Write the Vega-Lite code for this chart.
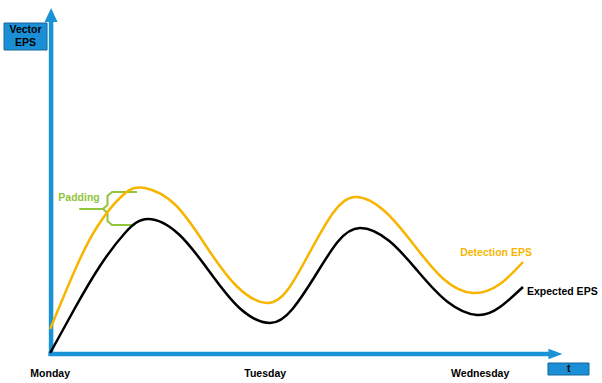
{
  "$schema": "https://vega.github.io/schema/vega-lite/v6.json",
  "width": 602,
  "height": 383,
  "autosize": {"type": "none"},
  "padding": 0,
  "background": "white",
  "config": {"view": {"stroke": null}, "text": {"font": "Liberation Sans", "fontWeight": "bold", "fontSize": 10.5}},
  "datasets": {
    "curves": [
      {"series": "Expected EPS", "h": 0, "eps": 1},
      {"series": "Expected EPS", "h": 2.77, "eps": 46},
      {"series": "Expected EPS", "h": 5.56, "eps": 88},
      {"series": "Expected EPS", "h": 8.35, "eps": 121},
      {"series": "Expected EPS", "h": 10.92, "eps": 135},
      {"series": "Expected EPS", "h": 14.33, "eps": 120},
      {"series": "Expected EPS", "h": 17.73, "eps": 83},
      {"series": "Expected EPS", "h": 21.13, "eps": 46},
      {"series": "Expected EPS", "h": 24.54, "eps": 31},
      {"series": "Expected EPS", "h": 27.05, "eps": 45},
      {"series": "Expected EPS", "h": 29.57, "eps": 78},
      {"series": "Expected EPS", "h": 32.08, "eps": 112},
      {"series": "Expected EPS", "h": 34.59, "eps": 126},
      {"series": "Expected EPS", "h": 37.86, "eps": 113},
      {"series": "Expected EPS", "h": 41.12, "eps": 82},
      {"series": "Expected EPS", "h": 44.38, "eps": 52},
      {"series": "Expected EPS", "h": 47.65, "eps": 39},
      {"series": "Expected EPS", "h": 50.21, "eps": 47},
      {"series": "Expected EPS", "h": 52.78, "eps": 67},
      {"series": "Detection EPS", "h": 0, "eps": 25},
      {"series": "Detection EPS", "h": 2.77, "eps": 84},
      {"series": "Detection EPS", "h": 5.23, "eps": 127},
      {"series": "Detection EPS", "h": 8.13, "eps": 159},
      {"series": "Detection EPS", "h": 10.59, "eps": 166},
      {"series": "Detection EPS", "h": 13.99, "eps": 149},
      {"series": "Detection EPS", "h": 17.40, "eps": 108},
      {"series": "Detection EPS", "h": 20.80, "eps": 68},
      {"series": "Detection EPS", "h": 24.2, "eps": 51},
      {"series": "Detection EPS", "h": 26.66, "eps": 66},
      {"series": "Detection EPS", "h": 29.12, "eps": 104},
      {"series": "Detection EPS", "h": 31.57, "eps": 141},
      {"series": "Detection EPS", "h": 34.03, "eps": 157},
      {"series": "Detection EPS", "h": 37.32, "eps": 143},
      {"series": "Detection EPS", "h": 40.62, "eps": 109},
      {"series": "Detection EPS", "h": 43.91, "eps": 75},
      {"series": "Detection EPS", "h": 47.2, "eps": 61},
      {"series": "Detection EPS", "h": 50.21, "eps": 70},
      {"series": "Detection EPS", "h": 52.78, "eps": 92}
    ],
    "brace": [
      {"i": 0, "h": 9.69, "eps": 162},
      {"i": 1, "h": 6.9, "eps": 162},
      {"i": 2, "h": 6.4, "eps": 158},
      {"i": 3, "h": 6.4, "eps": 149},
      {"i": 4, "h": 5.9, "eps": 145},
      {"i": 5, "h": 3.33, "eps": 145},
      {"i": 6, "h": 5.9, "eps": 145},
      {"i": 7, "h": 6.4, "eps": 141},
      {"i": 8, "h": 6.4, "eps": 133},
      {"i": 9, "h": 6.9, "eps": 129},
      {"i": 10, "h": 9.47, "eps": 129}
    ],
    "axes": [
      {"h": 0.1, "eps": -2, "h2": 0.1, "eps2": 334},
      {"h": -0.2, "eps": 0, "h2": 55.9, "eps2": 0}
    ],
    "boxes": [
      {"label": "Vector\nEPS", "h": -5.15, "eps": 331, "h2": -0.35, "eps2": 304, "th": -2.75, "te": 324},
      {"label": "t", "h": 55.57, "eps": -9, "h2": 60.15, "eps2": -21, "th": 57.9, "te": -15}
    ],
    "days": [
      {"label": "Monday", "h": 0, "eps": -20},
      {"label": "Tuesday", "h": 24, "eps": -20},
      {"label": "Wednesday", "h": 48, "eps": -20}
    ]
  },
  "encoding": {
    "x": {"field": "h", "type": "quantitative", "scale": {"domain": [-5.6, 61.6], "nice": false, "zero": false}, "axis": null},
    "y": {"field": "eps", "type": "quantitative", "scale": {"domain": [-29, 354], "nice": false, "zero": false}, "axis": null}
  },
  "layer": [
    {
      "data": {"name": "axes"},
      "mark": {"type": "rule", "color": "#1a93d6", "strokeWidth": 4.5},
      "encoding": {"x2": {"field": "h2"}, "y2": {"field": "eps2"}}
    },
    {
      "data": {"values": [{"h": 0.1, "eps": 339}]},
      "mark": {"type": "point", "shape": "M0,-1L-0.93,1L0.93,1Z", "size": 196, "filled": true, "color": "#1a93d6", "opacity": 1}
    },
    {
      "data": {"values": [{"h": 56.4, "eps": 0}]},
      "mark": {"type": "point", "shape": "M1,0L-1,-0.75L-1,0.75Z", "size": 196, "filled": true, "color": "#1a93d6", "opacity": 1}
    },
    {
      "data": {"name": "boxes"},
      "mark": {"type": "rect", "fill": "#1a8fd6", "stroke": "#16679a", "strokeWidth": 1},
      "encoding": {"x2": {"field": "h2"}, "y2": {"field": "eps2"}}
    },
    {
      "data": {"name": "boxes"},
      "mark": {"type": "text", "color": "black", "align": "center", "baseline": "middle", "lineBreak": "\n", "lineHeight": 13},
      "encoding": {"x": {"field": "th", "type": "quantitative"}, "y": {"field": "te", "type": "quantitative"}, "text": {"field": "label"}}
    },
    {
      "data": {"name": "days"},
      "mark": {"type": "text", "color": "black", "align": "center", "baseline": "middle"},
      "encoding": {"text": {"field": "label"}}
    },
    {
      "data": {"name": "brace"},
      "mark": {"type": "line", "color": "#92c43e", "strokeWidth": 2, "interpolate": "linear", "strokeJoin": "round"},
      "encoding": {"order": {"field": "i"}}
    },
    {
      "data": {"name": "curves"},
      "mark": {"type": "line", "strokeWidth": 2.5, "interpolate": "natural"},
      "encoding": {
        "color": {"field": "series", "type": "nominal", "scale": {"domain": ["Detection EPS", "Expected EPS"], "range": ["#f7b500", "#000000"]}, "legend": null},
        "detail": {"field": "series"}
      }
    },
    {
      "data": {"values": [{"label": "Padding", "h": 3.22, "eps": 156}]},
      "mark": {"type": "text", "color": "#92c43e", "align": "center", "baseline": "middle"},
      "encoding": {"text": {"field": "label"}}
    },
    {
      "data": {"values": [{"label": "Detection EPS", "h": 49.77, "eps": 101}]},
      "mark": {"type": "text", "color": "#f7b500", "align": "center", "baseline": "middle"},
      "encoding": {"text": {"field": "label"}}
    },
    {
      "data": {"values": [{"label": "Expected EPS", "h": 53.23, "eps": 62}]},
      "mark": {"type": "text", "color": "black", "align": "left", "baseline": "middle"},
      "encoding": {"text": {"field": "label"}}
    }
  ]
}
